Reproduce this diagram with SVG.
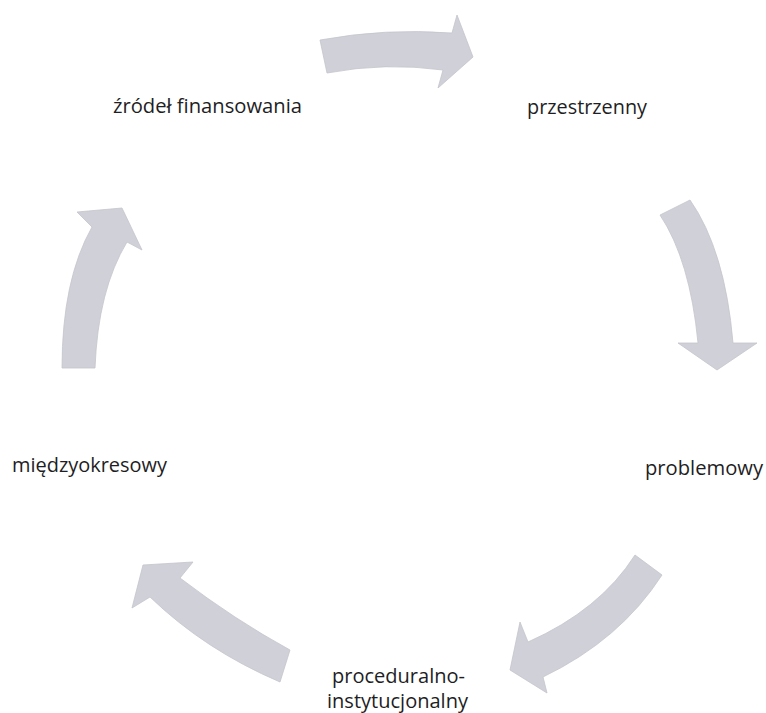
<svg xmlns="http://www.w3.org/2000/svg" width="766" height="713" viewBox="0 0 766 713">
<style>
.arr{fill:#d0d0d8;stroke:#c4c4cc;stroke-width:0.8;stroke-linejoin:miter}
.lbl{font-family:"Open Sans","Noto Sans","Liberation Sans",sans-serif;font-size:19.5px;fill:#1e1e24}
</style>
<rect width="766" height="713" fill="#ffffff"/>
<g id="connectors">
<path id="arrow-top" class="arr" d="M320,40 Q385,28 452,33 L457,15 L473,57 L438,88 L443,70 Q385,62 327,73 Z"/>
<path id="arrow-right" class="arr" d="M660,215 Q690,260 698,343 L678,343 L717,370 L757,343 L733,343 Q725,250 690,200 Z"/>
<path id="arrow-bottom-right" class="arr" d="M635,555 Q600,610 528,642 L520,622 L510,670 L547,693 L543,677 Q620,640 662,575 Z"/>
<path id="arrow-bottom-left" class="arr" d="M290,650 Q235,620 180,578 L193,562 L143,565 L132,608 L150,597 Q205,650 280,682 Z"/>
<path id="arrow-left" class="arr" d="M62,368 Q62,280 92,227 L77,212 L122,208 L142,250 L127,242 Q98,290 95,368 Z"/>
</g>
<g id="node-zrodel">
<text class="lbl" x="113" y="113" textLength="189" lengthAdjust="spacingAndGlyphs">źródeł finansowania</text>
</g>
<g id="node-przestrzenny">
<text class="lbl" x="527" y="114" textLength="120" lengthAdjust="spacingAndGlyphs">przestrzenny</text>
</g>
<g id="node-problemowy">
<text class="lbl" x="645" y="475" textLength="118" lengthAdjust="spacingAndGlyphs">problemowy</text>
</g>
<g id="node-proceduralno">
<text class="lbl" x="332" y="683" textLength="133" lengthAdjust="spacingAndGlyphs">proceduralno-</text>
<text class="lbl" x="327" y="708" textLength="141" lengthAdjust="spacingAndGlyphs">instytucjonalny</text>
</g>
<g id="node-miedzyokresowy">
<text class="lbl" x="12" y="472" textLength="155" lengthAdjust="spacingAndGlyphs">międzyokresowy</text>
</g>
</svg>
